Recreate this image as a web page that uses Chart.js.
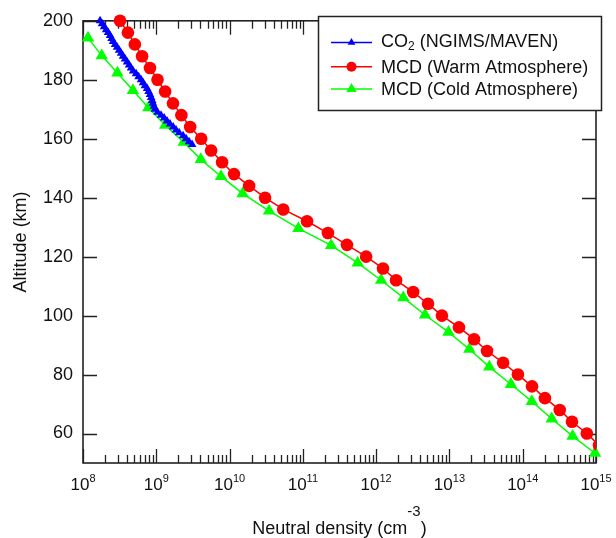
<!DOCTYPE html>
<html>
<head>
<meta charset="utf-8">
<script src="https://cdn.jsdelivr.net/npm/chart.js@4.4.1/dist/chart.umd.min.js"></script>
<style>
  html, body { margin: 0; padding: 0; background: #fff; }
</style>
</head>
<body>
<canvas id="profile" width="616" height="538"></canvas>
<script>
const FONT = '"Liberation Sans", Arial, Helvetica, sans-serif'
const INK = '#111'
const FRAME = '#222'

// CO2 density from NGIMS/MAVEN (cm^-3), one sample per km
const co2Alt = [200, 199, 198, 197, 196, 195, 194, 193, 192, 191, 190, 189, 188, 187, 186,
    185, 184, 183, 182, 181, 180, 179, 178, 177, 176, 175, 174, 173, 172, 171, 170, 169,
    168, 167, 166, 165, 164, 163, 162, 161, 160, 159, 158]
const co2Density = [1.71e8, 1.82e8, 1.94e8, 2.07e8, 2.20e8, 2.34e8, 2.46e8, 2.57e8, 2.74e8,
    2.92e8, 3.11e8, 3.31e8, 3.52e8, 3.75e8, 4.0e8, 4.26e8, 4.53e8, 4.83e8, 5.3e8, 5.74e8,
    6.2e8, 6.6e8, 7.0e8, 7.5e8, 7.85e8, 8.2e8, 8.5e8, 8.8e8, 9.0e8, 9.3e8, 9.6e8, 1.04e9,
    1.16e9, 1.28e9, 1.40e9, 1.54e9, 1.70e9, 1.86e9, 2.05e9, 2.32e9, 2.55e9, 2.80e9, 3.08e9]

// Mars Climate Database, warm case
const warmAlt = [200, 196, 192, 188, 184, 180, 176, 172, 168, 164, 160, 156, 152, 148, 144,
    140, 136, 132, 128, 124, 120, 116, 112, 108, 104, 100, 96, 92, 88, 84, 80, 76, 72, 68,
    64, 60, 56]
const warmDensity = [3.2e8, 4.1e8, 5.1e8, 6.4e8, 8.2e8, 1.04e9, 1.32e9, 1.69e9, 2.2e9, 2.9e9,
    4.1e9, 5.6e9, 7.9e9, 1.15e10, 1.85e10, 3.05e10, 5.4e10, 1.14e11, 2.2e11, 4.0e11, 7.3e11,
    1.24e12, 1.87e12, 3.2e12, 5.1e12, 7.9e12, 1.35e13, 2.17e13, 3.26e13, 5.4e13, 8.6e13,
    1.34e14, 2.01e14, 3.2e14, 4.7e14, 7.5e14, 1.1e15]

// Mars Climate Database, cold case
const coldAlt = [194.2, 188.2, 182.3, 176.4, 170.5, 164.6, 158.8, 153.0, 147.2, 141.4, 135.5,
    129.6, 123.8, 117.9, 112.0, 106.1, 100.2, 94.4, 88.6, 82.6, 76.7, 70.9, 65.0, 59.1, 53.3]
const coldDensity = [1.17e8, 1.8e8, 2.95e8, 4.8e8, 7.8e8, 1.32e9, 2.37e9, 4.05e9, 7.65e9,
    1.51e10, 3.46e10, 8.7e10, 2.43e11, 5.6e11, 1.17e12, 2.35e12, 4.65e12, 9.7e12, 1.87e13,
    3.5e13, 6.9e13, 1.33e14, 2.49e14, 4.8e14, 9.7e14]

const altitudeTicks = [60, 80, 100, 120, 140, 160, 180, 200]
const densityExponents = [8, 9, 10, 11, 12, 13, 14, 15]

const toPoints = (xs, ys) => xs.map((v, i) => ({ x: v, y: ys[i] }))

// legend rows: label pieces [text, subscript, text]
const legendRows = [
    { ds: 0, parts: ['CO', '2', ' (NGIMS/MAVEN)'], lineY: 42.5, base: 46.7, r: 4.5 },
    { ds: 1, parts: ['MCD (Warm Atmosphere)'], lineY: 66.7, base: 73.3, r: 5 },
    { ds: 2, parts: ['MCD (Cold Atmosphere)'], lineY: 89, base: 95, r: 6 },
]

const drawMarker = (ctx, style, r, x, y, color) => {
    ctx.fillStyle = color
    Chart.helpers.drawPoint(ctx, { pointStyle: style, radius: r, rotation: 0, borderWidth: 0 }, x, y)
}

// box frame with inward ticks on all four sides
const framePlugin = {
    id: 'frame',
    beforeDatasetsDraw(chart) {
        const { ctx, chartArea: a, scales: { x, y } } = chart
        ctx.save()
        ctx.strokeStyle = FRAME
        ctx.lineWidth = 1.3
        ctx.beginPath()
        densityExponents.forEach((e, i) => {
            const px = Math.round(x.getPixelForValue(Math.pow(10, e))) + 0.5
            ctx.moveTo(px, a.top); ctx.lineTo(px, a.top + 14)
            ctx.moveTo(px, a.bottom); ctx.lineTo(px, a.bottom - 14)
            if (i === densityExponents.length - 1) return
            for (let m = 2; m <= 9; m++) {
                const mx = Math.round(x.getPixelForValue(m * Math.pow(10, e))) + 0.5
                ctx.moveTo(mx, a.top); ctx.lineTo(mx, a.top + 8)
                ctx.moveTo(mx, a.bottom); ctx.lineTo(mx, a.bottom - 8)
            }
        })
        altitudeTicks.forEach(v => {
            const py = Math.round(y.getPixelForValue(v)) + 0.5
            ctx.moveTo(a.left, py); ctx.lineTo(a.left + 14, py)
            ctx.moveTo(a.right, py); ctx.lineTo(a.right - 14, py)
        })
        ctx.stroke()
        ctx.lineWidth = 1.6
        ctx.strokeRect(a.left, a.top, a.right - a.left, a.bottom - a.top)

        // decade labels 10^n
        ctx.fillStyle = INK
        ctx.textAlign = 'left'
        ctx.textBaseline = 'alphabetic'
        densityExponents.forEach(e => {
            const px = x.getPixelForValue(Math.pow(10, e))
            ctx.font = '17px ' + FONT
            const w1 = ctx.measureText('10').width
            ctx.font = '11px ' + FONT
            const w2 = ctx.measureText(String(e)).width
            const start = px - (w1 + w2) / 2
            ctx.font = '17px ' + FONT
            ctx.fillText('10', start, a.bottom + 26.5)
            ctx.font = '11px ' + FONT
            ctx.fillText(String(e), start + w1, a.bottom + 19)
        })

        // x axis title with superscript
        const t1 = 'Neutral density (cm', sup = '-3', t2 = ')'
        ctx.font = '18px ' + FONT
        const w1 = ctx.measureText(t1).width
        const w3 = ctx.measureText(t2).width
        ctx.font = '15px ' + FONT
        const w2 = ctx.measureText(sup).width
        let tx = (a.left + a.right) / 2 - (w1 + w2 + w3) / 2
        const base = a.bottom + 70.5
        ctx.font = '18px ' + FONT
        ctx.fillText(t1, tx, base)
        ctx.font = '15px ' + FONT
        ctx.fillText(sup, tx + w1, base - 18)
        ctx.font = '18px ' + FONT
        ctx.fillText(t2, tx + w1 + w2, base)
        ctx.restore()
    },
    afterDraw(chart) {
        const { ctx } = chart
        ctx.save()
        ctx.fillStyle = '#fff'
        ctx.fillRect(318, 16, 284, 95)
        ctx.strokeStyle = FRAME
        ctx.lineWidth = 1.5
        ctx.strokeRect(318.5, 16.5, 283, 94)
        legendRows.forEach(row => {
            const ds = chart.data.datasets[row.ds]
            ctx.strokeStyle = ds.borderColor
            ctx.lineWidth = 1.5
            ctx.beginPath()
            ctx.moveTo(331, row.lineY); ctx.lineTo(372, row.lineY)
            ctx.stroke()
            drawMarker(ctx, ds.pointStyle, row.r, 351.5, row.lineY, ds.pointBackgroundColor)
            ctx.fillStyle = INK
            ctx.textAlign = 'left'
            ctx.textBaseline = 'alphabetic'
            let tx = 381
            row.parts.forEach((p, i) => {
                const isSub = i === 1
                ctx.font = (isSub ? '12px ' : '18px ') + FONT
                ctx.fillText(p, tx, row.base + (isSub ? 3.5 : 0))
                tx += ctx.measureText(p).width
            })
        })
        ctx.restore()
    },
}

const ctx = document.getElementById('profile')

new Chart(ctx, {
    type: 'line',
    data: {
        datasets: [
            {
                label: 'CO2 (NGIMS/MAVEN)',
                data: toPoints(co2Density, co2Alt),
                borderColor: '#0000ff',
                backgroundColor: '#0000ff',
                pointBackgroundColor: '#0000ff',
                pointStyle: 'triangle',
                pointRadius: 5,
                pointBorderWidth: 0,
                borderWidth: 2,
                clip: { left: 10, top: 10, right: 10, bottom: 10 },
            },
            {
                label: 'MCD (Warm Atmosphere)',
                data: toPoints(warmDensity, warmAlt),
                borderColor: '#ff0000',
                backgroundColor: '#ff0000',
                pointBackgroundColor: '#ff0000',
                pointStyle: 'circle',
                pointRadius: 6.3,
                pointBorderWidth: 0,
                borderWidth: 1.5,
                clip: { left: 10, top: 10, right: 0, bottom: 10 },
            },
            {
                label: 'MCD (Cold Atmosphere)',
                data: toPoints(coldDensity, coldAlt),
                borderColor: '#00ff00',
                backgroundColor: '#00ff00',
                pointBackgroundColor: '#00ff00',
                pointStyle: 'triangle',
                pointRadius: 7.2,
                pointBorderWidth: 0,
                borderWidth: 1.5,
                clip: { left: 10, top: 10, right: 10, bottom: 10 },
            },
        ],
    },
    options: {
        responsive: false,
        animation: false,
        devicePixelRatio: 1,
        events: [],
        layout: { padding: { top: 17, right: 20, left: 0, bottom: 0 } },
        elements: { line: { tension: 0 } },
        plugins: {
            legend: { display: false },
            tooltip: { enabled: false },
        },
        scales: {
            x: {
                type: 'logarithmic',
                min: 1e8,
                max: 1e15,
                grid: { display: false },
                border: { display: false },
                ticks: { display: false },
                afterFit: s => { s.height = 75 },
            },
            y: {
                type: 'linear',
                min: 50,
                max: 200,
                afterBuildTicks: s => { s.ticks = altitudeTicks.map(v => ({ value: v })) },
                afterFit: s => { s.width = 83 },
                grid: { display: false, drawTicks: false },
                border: { display: false },
                ticks: {
                    padding: 10,
                    color: INK,
                    font: { family: FONT, size: 18 },
                },
                title: {
                    display: true,
                    text: 'Altitude (km)',
                    color: INK,
                    font: { family: FONT, size: 18 },
                    padding: { top: 10, bottom: 0 },
                },
            },
        },
    },
    plugins: [framePlugin],
})
</script>
</body>
</html>
